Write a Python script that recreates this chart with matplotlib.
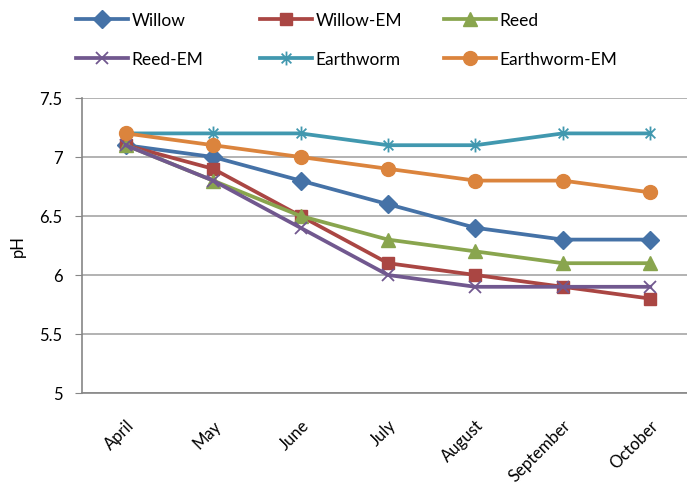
import matplotlib
matplotlib.use("Agg")
import matplotlib.pyplot as plt
from matplotlib.path import Path
from matplotlib.transforms import ScaledTranslation

plt.rcParams['font.family'] = ['Lato', 'DejaVu Sans']

months = ["April", "May", "June", "July", "August", "September", "October"]
willow = [7.1, 7.0, 6.8, 6.6, 6.4, 6.3, 6.3]
willow_em = [7.1, 6.9, 6.5, 6.1, 6.0, 5.9, 5.8]
reed = [7.1, 6.8, 6.5, 6.3, 6.2, 6.1, 6.1]
reed_em = [7.1, 6.8, 6.4, 6.0, 5.9, 5.9, 5.9]
earthworm = [7.2, 7.2, 7.2, 7.1, 7.1, 7.2, 7.2]
earthworm_em = [7.2, 7.1, 7.0, 6.9, 6.8, 6.8, 6.7]
y_ticks = [5, 5.5, 6, 6.5, 7, 7.5]
y_labels = ["5", "5.5", "6", "6.5", "7", "7.5"]

# asterisk marker: an X with a vertical stroke
star = Path([(-0.7, -0.7), (0.7, 0.7), (-0.7, 0.7), (0.7, -0.7), (0, -1), (0, 1)],
            [Path.MOVETO, Path.LINETO, Path.MOVETO, Path.LINETO, Path.MOVETO, Path.LINETO])

series = [
    ("Willow", willow, "#4572A7", "D", 9),
    ("Willow-EM", willow_em, "#AA4643", "s", 9),
    ("Reed", reed, "#89A54E", "^", 10),
    ("Reed-EM", reed_em, "#71588F", "x", 9),
    ("Earthworm", earthworm, "#4198AF", star, 10),
    ("Earthworm-EM", earthworm_em, "#DB843D", "o", 10),
]

W, H = 687, 485
fig = plt.figure(figsize=(W / 100, H / 100), dpi=100)
ax = fig.add_axes([82 / W, 1 - 394 / H, (694 - 82) / W, (394 - 99) / H])

x = list(range(len(months)))
handles = []
for name, vals, color, marker, ms in series:
    thin = marker == "x" or marker is star
    ln, = ax.plot(x, vals, label=name, marker=marker, markersize=ms, color=color,
                  markerfacecolor=color, markeredgecolor=color, linewidth=2.7,
                  markeredgewidth=1.3 if thin else 1)
    handles.append(ln)

ax.set_xlim(-0.5, len(months) - 0.5)
ax.set_ylim(5, 7.5)
ax.set_yticks(y_ticks)
ax.set_yticklabels(y_labels, fontsize=12)
ax.set_xticks(x)
ax.set_xticklabels(months, fontsize=12, rotation=45, ha="right", rotation_mode="anchor")
shift = ScaledTranslation(-6 / 100, 0, fig.dpi_scale_trans)
for lbl in ax.get_xticklabels():
    lbl.set_transform(lbl.get_transform() + shift)
ax.tick_params(axis="x", length=0, pad=17)
ax.tick_params(axis="y", length=5, color="#868686", pad=9)
ax.grid(axis="y", color="#A6A6A6", linewidth=1.2)
ax.set_axisbelow(True)
for side in ("top", "right"):
    ax.spines[side].set_visible(False)
for side in ("left", "bottom"):
    ax.spines[side].set_color("#868686")
    ax.spines[side].set_linewidth(1.2)
ax.set_ylabel("pH", fontsize=12, labelpad=10)

# legend: three evenly spaced columns, two rows
col_x = [76, 260, 444]
for c in range(3):
    idx = [c, c + 3]
    fig.legend([handles[i] for i in idx], [series[i][0] for i in idx],
               loc="upper left", bbox_to_anchor=(col_x[c] / W, 1 - 13 / H),
               frameon=False, fontsize=12.5, handlelength=3.0, handletextpad=0.2,
               labelspacing=1.35, borderaxespad=0, borderpad=0)

fig.savefig("out.png", dpi=100)
